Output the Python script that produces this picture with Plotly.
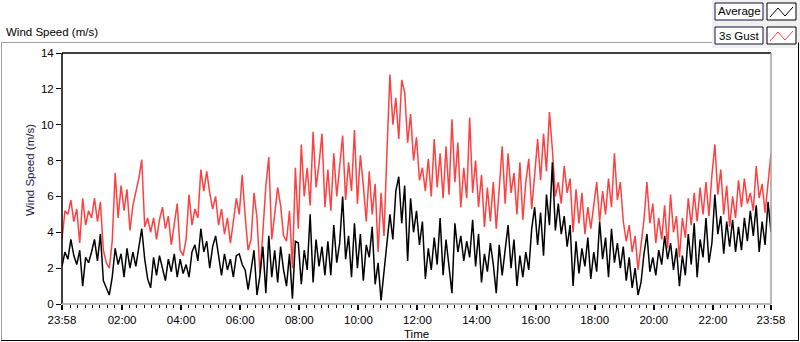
import pandas as pd
import plotly.graph_objects as go

# ---- data (one sample every 6 minutes) ----
start_time = "2014-03-10 23:58"
step_minutes = 6

gust_3s = [
    3.6, 5.2, 5.0, 5.8, 4.6, 5.3, 3.4, 5.9, 4.4, 5.2,
    4.8, 5.9, 4.6, 5.7, 3.0, 2.3, 2.0, 3.5, 7.3, 4.8,
    6.6, 5.2, 6.4, 4.1, 5.5, 6.3, 7.0, 8.05, 4.3, 4.8,
    4.0, 4.8, 3.6, 4.7, 5.4, 4.2, 4.9, 3.3, 4.5, 5.6,
    3.0, 2.7, 3.6, 6.1, 4.4, 5.3, 4.8, 7.5, 6.3, 7.4,
    6.2, 5.3, 6.0, 4.4, 5.3, 3.9, 4.8, 3.4, 4.6, 5.9,
    5.0, 7.2, 4.9, 3.0, 3.6, 6.2, 4.8, 1.7, 4.0, 6.6,
    8.2, 3.6, 5.0, 6.5, 5.5, 3.8, 3.5, 5.2, 2.0, 7.6,
    4.2, 8.9, 6.0, 7.6, 5.5, 9.6, 6.5, 7.8, 9.5, 5.4,
    7.5, 5.2, 8.4, 6.0, 7.7, 9.4, 5.8, 7.9, 6.3, 9.7,
    5.6, 8.3, 6.6, 4.6, 7.4, 5.0, 6.7, 2.9, 6.2, 3.8,
    8.5, 12.8, 10.0, 11.5, 9.2, 12.5, 11.8, 9.0, 10.6, 8.0,
    9.3, 6.9, 7.6, 6.3, 8.1, 6.0, 9.2, 6.5, 8.4, 5.9,
    8.8, 6.1, 10.3, 6.8, 9.0, 5.4, 7.6, 5.9, 10.4, 6.2,
    8.0, 5.4, 7.2, 4.3, 6.5, 4.6, 6.8, 4.2, 6.4, 8.8,
    5.6, 8.4, 6.2, 7.3, 5.0, 7.9, 4.7, 6.8, 8.1, 5.3,
    7.2, 9.2, 6.9, 9.5, 7.4, 10.7, 8.6, 6.0, 6.8, 5.6,
    7.7, 6.2, 7.0, 4.0, 6.4, 4.5, 6.2, 3.9, 5.4, 4.2,
    5.5, 6.8, 4.6, 6.3, 5.0, 7.0, 5.4, 8.4, 5.8, 6.8,
    4.6, 3.5, 4.4, 2.9, 3.8, 1.9, 3.3, 4.7, 6.8, 4.5,
    5.6, 3.4, 4.8, 3.6, 5.5, 3.1, 6.1, 4.0, 4.9, 2.6,
    4.8, 3.7, 5.9, 4.4, 6.2, 4.6, 6.5, 5.0, 6.8, 4.9,
    7.2, 8.9, 6.1, 7.5, 5.0, 6.6, 4.3, 6.0, 4.8, 6.9,
    5.4, 7.0, 5.6, 6.2, 5.2, 7.7, 5.9, 6.7, 5.1, 6.6, 8.4,
]

average = [
    2.1, 2.9, 2.5, 3.6, 2.7, 2.2, 3.0, 1.0, 2.6, 2.3,
    2.9, 3.6, 2.4, 3.9, 1.3, 0.9, 0.5, 1.5, 3.1, 2.2,
    2.8, 1.5, 3.1, 2.0, 2.9, 2.1, 3.3, 4.2, 2.5, 1.4,
    0.9, 2.6, 1.6, 2.7, 2.0, 1.3, 2.5, 1.8, 2.8, 1.5,
    2.5, 1.7, 2.2, 1.5, 2.9, 3.3, 2.4, 4.2, 2.9, 3.5,
    2.0, 3.2, 3.8, 2.6, 1.6, 2.8, 1.9, 2.5, 1.5, 2.7,
    2.8, 2.2, 1.9, 0.8, 2.0, 3.0, 0.5, 1.6, 3.2, 0.6,
    3.8, 1.5, 3.0, 1.2, 3.2, 1.9, 1.0, 2.8, 0.3, 3.5,
    3.4, 1.1, 3.0, 1.9, 5.0, 1.2, 3.6, 2.1, 3.2, 1.6,
    3.5, 1.6, 4.4, 2.3, 3.4, 6.0, 2.5, 3.8, 1.5, 4.5,
    2.0, 3.9, 1.3, 3.3, 2.6, 4.3, 1.1, 2.3, 0.2, 1.8,
    3.4, 5.0, 3.6, 6.3, 7.1, 4.5, 6.6, 2.4, 5.9, 4.0,
    5.2, 3.3, 4.6, 1.4, 3.1, 1.9, 3.7, 2.2, 4.8, 1.6,
    3.6, 2.0, 0.6, 4.5, 2.9, 3.8, 2.4, 3.5, 2.6, 4.7,
    2.1, 3.9, 1.2, 2.8, 1.8, 3.4, 2.2, 0.6, 3.3, 1.6,
    3.1, 4.4, 2.0, 3.6, 1.0, 2.7, 1.5, 2.9, 1.9, 4.2,
    5.4, 3.3, 5.1, 2.7, 6.1, 4.4, 7.9, 4.1, 5.6, 3.9,
    4.9, 3.2, 4.4, 1.0, 3.5, 1.7, 3.1, 2.1, 3.7, 1.4,
    2.9, 1.8, 4.6, 2.5, 3.7, 1.5, 4.2, 2.3, 3.4, 2.0,
    3.2, 1.3, 2.6, 0.9, 2.0, 0.5, 1.2, 2.8, 3.9, 1.8,
    2.6, 1.6, 3.0, 2.2, 3.8, 2.5, 3.4, 1.9, 3.1, 1.0,
    2.7, 1.6, 3.9, 2.2, 4.5, 1.5, 3.6, 2.6, 4.8, 2.3,
    3.4, 6.1, 3.9, 4.9, 2.8, 4.6, 3.2, 4.7, 2.9, 4.3,
    3.0, 4.8, 3.5, 5.2, 3.8, 5.5, 2.9, 4.6, 3.3, 5.7, 4.0,
]

tick_labels = ["23:58", "02:00", "04:00", "06:00", "08:00", "10:00", "12:00",
               "14:00", "16:00", "18:00", "20:00", "22:00", "23:58"]
y_ticks = [0, 2, 4, 6, 8, 10, 12, 14]

# ---- build time axis ----
t0 = pd.Timestamp(start_time)
times = pd.date_range(t0, periods=len(average), freq=f"{step_minutes}min")
t_end = times[-1]
day2 = (t0 + pd.Timedelta(days=1)).normalize()
tick_vals = [t0]
for lab in tick_labels[1:-1]:
    h, m = map(int, lab.split(":"))
    tick_vals.append(day2 + pd.Timedelta(hours=h, minutes=m))
tick_vals.append(t_end)

FONT = "Liberation Sans"
W, H = 800, 342
L, R, T, B = 62, 29, 53, 38
PW, PH = W - L - R, H - T - B


def px(x):
    return (x - L) / PW


def py(y):
    return (H - B - y) / PH


fig = go.Figure()
fig.add_trace(go.Scatter(x=times, y=gust_3s, mode="lines", name="3s Gust",
                         line=dict(color="#ff4040", width=1.5)))
fig.add_trace(go.Scatter(x=times, y=average, mode="lines", name="Average",
                         line=dict(color="#000000", width=1.5)))

shapes = []
# outer frame (sunken look)
shapes.append(dict(type="line", xref="paper", yref="paper", x0=px(1), x1=px(712),
                   y0=py(42.5), y1=py(42.5), line=dict(color="#a0a0a0", width=1)))
shapes.append(dict(type="line", xref="paper", yref="paper", x0=px(1.5), x1=px(1.5),
                   y0=py(42.5), y1=py(341), line=dict(color="#a0a0a0", width=1)))
shapes.append(dict(type="line", xref="paper", yref="paper", x0=px(1), x1=px(799),
                   y0=py(340.5), y1=py(340.5), line=dict(color="#000000", width=1)))
shapes.append(dict(type="line", xref="paper", yref="paper", x0=px(798.5), x1=px(798.5),
                   y0=py(42.5), y1=py(341), line=dict(color="#000000", width=1)))
# plot-area frame
shapes.append(dict(type="line", xref="paper", yref="paper", x0=0, x1=1,
                   y0=1, y1=1, line=dict(color="#000000", width=1.5)))
shapes.append(dict(type="line", xref="paper", yref="paper", x0=0, x1=0,
                   y0=0, y1=1, line=dict(color="#000000", width=1.5)))
shapes.append(dict(type="line", xref="paper", yref="paper", x0=1, x1=1,
                   y0=0, y1=1, line=dict(color="#a0a0a0", width=1.5)))
shapes.append(dict(type="line", xref="paper", yref="paper", x0=0, x1=1,
                   y0=0, y1=0, line=dict(color="#a0a0a0", width=1.5)))
# legend panel
shapes.append(dict(type="rect", xref="paper", yref="paper", x0=px(712), x1=px(800),
                   y0=py(48), y1=py(0), fillcolor="#f0f0f0", line=dict(width=0), layer="below"))
legend_items = [("Average", "#000000", 3), ("3s Gust", "#ff4040", 27)]
annotations = []
for name, col, top in legend_items:
    shapes.append(dict(type="rect", xref="paper", yref="paper", x0=px(715), x1=px(763),
                       y0=py(top + 17), y1=py(top), fillcolor="#ffffff",
                       line=dict(color="#101040", width=1)))
    shapes.append(dict(type="rect", xref="paper", yref="paper", x0=px(767), x1=px(796),
                       y0=py(top + 17), y1=py(top), fillcolor="#ffffff",
                       line=dict(color="#000000", width=1)))
    pts = [(770, top + 14), (778, top + 5), (785, top + 13), (793, top + 4)]
    path = "M " + " L ".join(f"{px(a):.5f},{py(b):.5f}" for a, b in pts)
    shapes.append(dict(type="path", xref="paper", yref="paper", path=path,
                       line=dict(color=col, width=1)))
    annotations.append(dict(xref="paper", yref="paper", x=px(739), y=py(top + 8.5),
                            text=name, showarrow=False, xanchor="center", yanchor="middle",
                            font=dict(family=FONT, size=11.5, color="#000000")))

annotations.append(dict(xref="paper", yref="paper", x=px(4), y=py(32), text="Wind Speed (m/s)",
                        showarrow=False, xanchor="left", yanchor="middle",
                        font=dict(family=FONT, size=11.5, color="#000000")))
annotations.append(dict(xref="paper", yref="paper", x=px(30), y=py(170), text="Wind Speed (m/s)",
                        showarrow=False, textangle=-90, xanchor="center", yanchor="middle",
                        font=dict(family=FONT, size=11.5, color="#1a2050")))
annotations.append(dict(xref="paper", yref="paper", x=px(416), y=py(334), text="Time",
                        showarrow=False, xanchor="center", yanchor="middle",
                        font=dict(family=FONT, size=11.5, color="#000000")))

fig.update_layout(
    width=W, height=H,
    margin=dict(l=L, r=R, t=T, b=B, pad=0),
    paper_bgcolor="#ffffff", plot_bgcolor="#ffffff",
    showlegend=False,
    font=dict(family=FONT, size=11.5, color="#000000"),
    shapes=shapes, annotations=annotations,
    xaxis=dict(range=[t0, t_end], tickmode="array", tickvals=tick_vals, ticktext=tick_labels,
               ticks="outside", ticklen=5, tickwidth=2, tickcolor="#000000",
               showgrid=False, zeroline=False, showline=False,
               tickfont=dict(family=FONT, size=11.5, color="#000000"),
               minor=dict(ticks="outside", ticklen=3, tickwidth=1, tickcolor="#000000",
                          dtick=15 * 60 * 1000, tick0=str(day2), showgrid=False)),
    yaxis=dict(range=[0, 14], tickmode="array", tickvals=y_ticks,
               ticks="outside", ticklen=5, tickwidth=1, tickcolor="#000000",
               showgrid=False, zeroline=False, showline=False,
               tickfont=dict(family=FONT, size=11.5, color="#000000")),
)

fig.write_html("out.html", config={"displayModeBar": False},
               post_script="document.body.style.margin='0';document.body.style.overflow='hidden';")
